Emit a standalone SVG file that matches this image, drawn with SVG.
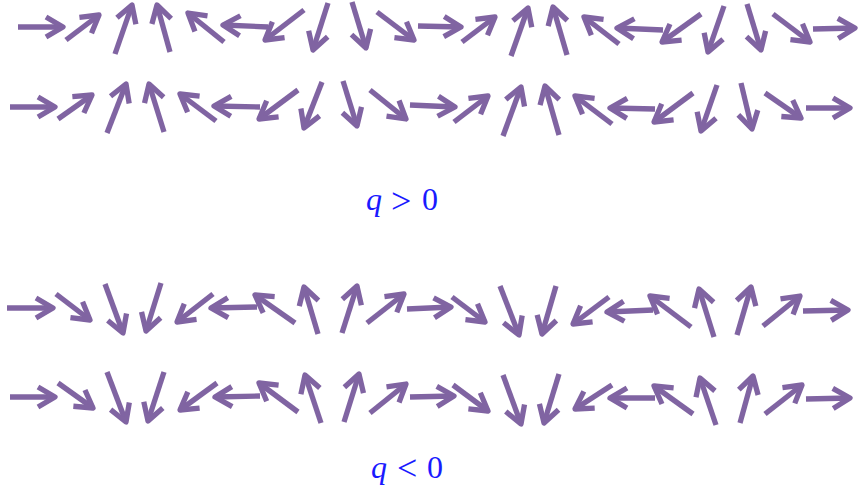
<svg xmlns="http://www.w3.org/2000/svg" width="859" height="488" viewBox="0 0 859 488">
<style>
.a{stroke:#8064a2;stroke-width:5.3;fill:none;stroke-linecap:butt;marker-end:url(#ah)}
.t{font-family:"Liberation Serif","DejaVu Serif",serif;font-size:32px;fill:#1a1aff}
.i{font-style:italic}
.r{font-size:36px}
</style>
<defs>
<marker id="ah" markerUnits="userSpaceOnUse" orient="auto" overflow="visible" markerWidth="1" markerHeight="1" refX="0" refY="0">
<path d="M-17,-10 L0,0 L-17,10" fill="none" stroke="#8064a2" stroke-width="5.3" stroke-linejoin="round" stroke-linecap="butt"/>
</marker>
</defs>
<rect width="859" height="488" fill="#fff"/>
<g id="row1">
<line class="a" x1="18" y1="27" x2="63" y2="27"/>
<line class="a" x1="66" y1="40" x2="99" y2="15"/>
<line class="a" x1="115" y1="54" x2="132" y2="5"/>
<line class="a" x1="170" y1="52" x2="157" y2="5"/>
<line class="a" x1="224" y1="42" x2="188" y2="13"/>
<line class="a" x1="268" y1="27" x2="223" y2="25"/>
<line class="a" x1="304" y1="10" x2="265" y2="40"/>
<line class="a" x1="328" y1="3" x2="313" y2="50"/>
<line class="a" x1="352" y1="2" x2="366" y2="48"/>
<line class="a" x1="377" y1="12" x2="414" y2="40"/>
<line class="a" x1="418" y1="26" x2="461" y2="27"/>
<line class="a" x1="462" y1="42" x2="495" y2="17"/>
<line class="a" x1="511" y1="56" x2="528" y2="8"/>
<line class="a" x1="567" y1="55" x2="553" y2="7"/>
<line class="a" x1="619" y1="44" x2="584" y2="17"/>
<line class="a" x1="663" y1="30" x2="617" y2="28"/>
<line class="a" x1="701" y1="14" x2="662" y2="42"/>
<line class="a" x1="724" y1="6" x2="708" y2="52"/>
<line class="a" x1="747" y1="4" x2="761" y2="50"/>
<line class="a" x1="773" y1="14" x2="810" y2="42"/>
<line class="a" x1="813" y1="29" x2="855" y2="28"/>
</g>
<g id="row2">
<line class="a" x1="10" y1="107" x2="55" y2="107"/>
<line class="a" x1="58" y1="119" x2="92" y2="95"/>
<line class="a" x1="107" y1="133" x2="126" y2="84"/>
<line class="a" x1="164" y1="132" x2="149" y2="84"/>
<line class="a" x1="216" y1="121" x2="180" y2="94"/>
<line class="a" x1="260" y1="107" x2="214" y2="106"/>
<line class="a" x1="298" y1="90" x2="259" y2="119"/>
<line class="a" x1="322" y1="82" x2="304" y2="128"/>
<line class="a" x1="343" y1="81" x2="357" y2="126"/>
<line class="a" x1="370" y1="90" x2="406" y2="119"/>
<line class="a" x1="410" y1="105" x2="455" y2="107"/>
<line class="a" x1="454" y1="122" x2="488" y2="96"/>
<line class="a" x1="503" y1="136" x2="521" y2="87"/>
<line class="a" x1="559" y1="135" x2="545" y2="86"/>
<line class="a" x1="612" y1="124" x2="575" y2="96"/>
<line class="a" x1="655" y1="109" x2="610" y2="108"/>
<line class="a" x1="693" y1="93" x2="654" y2="122"/>
<line class="a" x1="717" y1="85" x2="701" y2="131"/>
<line class="a" x1="741" y1="83" x2="752" y2="129"/>
<line class="a" x1="765" y1="93" x2="801" y2="118"/>
<line class="a" x1="806" y1="108" x2="850" y2="108"/>
</g>
<g id="label-pos">
<text class="t" y="210"><tspan class="i" x="366" y="210">q</tspan><tspan class="r" x="391" y="213">&gt;</tspan><tspan x="422" y="210">0</tspan></text>
</g>
<g id="row3">
<line class="a" x1="7" y1="308" x2="53" y2="308"/>
<line class="a" x1="56" y1="294" x2="90" y2="320"/>
<line class="a" x1="105" y1="284" x2="123" y2="333"/>
<line class="a" x1="161" y1="283" x2="146" y2="331"/>
<line class="a" x1="213" y1="294" x2="177" y2="322"/>
<line class="a" x1="257" y1="307" x2="211" y2="308"/>
<line class="a" x1="295" y1="323" x2="255" y2="295"/>
<line class="a" x1="318" y1="334" x2="304" y2="287"/>
<line class="a" x1="342" y1="333" x2="357" y2="286"/>
<line class="a" x1="367" y1="323" x2="404" y2="294"/>
<line class="a" x1="407" y1="309" x2="451" y2="307"/>
<line class="a" x1="452" y1="297" x2="485" y2="322"/>
<line class="a" x1="500" y1="286" x2="519" y2="335"/>
<line class="a" x1="556" y1="286" x2="542" y2="334"/>
<line class="a" x1="609" y1="297" x2="573" y2="324"/>
<line class="a" x1="653" y1="310" x2="607" y2="312"/>
<line class="a" x1="691" y1="327" x2="650" y2="296"/>
<line class="a" x1="714" y1="337" x2="699" y2="289"/>
<line class="a" x1="737" y1="335" x2="751" y2="287"/>
<line class="a" x1="763" y1="326" x2="800" y2="296"/>
<line class="a" x1="803" y1="311" x2="848" y2="310"/>
</g>
<g id="row4">
<line class="a" x1="10" y1="397" x2="55" y2="397"/>
<line class="a" x1="58" y1="383" x2="93" y2="408"/>
<line class="a" x1="107" y1="372" x2="126" y2="422"/>
<line class="a" x1="164" y1="372" x2="148" y2="421"/>
<line class="a" x1="217" y1="383" x2="180" y2="410"/>
<line class="a" x1="260" y1="396" x2="215" y2="397"/>
<line class="a" x1="298" y1="412" x2="259" y2="383"/>
<line class="a" x1="321" y1="423" x2="305" y2="375"/>
<line class="a" x1="344" y1="422" x2="359" y2="374"/>
<line class="a" x1="370" y1="413" x2="406" y2="384"/>
<line class="a" x1="410" y1="397" x2="454" y2="396"/>
<line class="a" x1="453" y1="385" x2="488" y2="411"/>
<line class="a" x1="503" y1="375" x2="521" y2="424"/>
<line class="a" x1="559" y1="374" x2="544" y2="423"/>
<line class="a" x1="612" y1="385" x2="575" y2="409"/>
<line class="a" x1="655" y1="398" x2="610" y2="398"/>
<line class="a" x1="693" y1="414" x2="654" y2="386"/>
<line class="a" x1="716" y1="425" x2="700" y2="378"/>
<line class="a" x1="740" y1="423" x2="753" y2="376"/>
<line class="a" x1="765" y1="414" x2="802" y2="385"/>
<line class="a" x1="806" y1="399" x2="850" y2="398"/>
</g>
<g id="label-neg">
<text class="t" y="478"><tspan class="i" x="371" y="478">q</tspan><tspan class="r" x="397" y="480">&lt;</tspan><tspan x="427" y="478">0</tspan></text>
</g>
</svg>
